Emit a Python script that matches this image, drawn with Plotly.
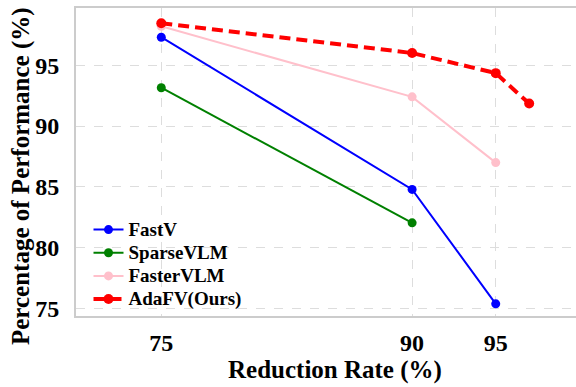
import plotly.graph_objects as go

# Data
x_fastv = [75, 90, 95]
y_fastv = [97.3, 84.8, 75.4]
x_sparse = [75, 90]
y_sparse = [93.15, 82.05]
x_faster = [75, 90, 95]
y_faster = [98.2, 92.4, 87.0]
x_adafv = [75, 90, 95, 97]
y_adafv = [98.45, 96.0, 94.35, 91.85]

x_ticks = [75, 90, 95]
y_ticks = [75, 80, 85, 90, 95]

FONT = "Liberation Serif, Times New Roman, serif"


def lbl(s):
    return f'<span style="font-size:19px"><b>{s}</b></span>'


fig = go.Figure()
fig.add_trace(go.Scatter(x=x_fastv, y=y_fastv, name=lbl("FastV"), mode="lines+markers",
                         line=dict(color="#0000ff", width=2), marker=dict(size=9, color="#0000ff")))
fig.add_trace(go.Scatter(x=x_sparse, y=y_sparse, name=lbl("SparseVLM"), mode="lines+markers",
                         line=dict(color="#008000", width=2), marker=dict(size=9, color="#008000")))
fig.add_trace(go.Scatter(x=x_faster, y=y_faster, name=lbl("FasterVLM"), mode="lines+markers",
                         line=dict(color="#ffc0cb", width=2), marker=dict(size=9, color="#ffc0cb")))
fig.add_trace(go.Scatter(x=x_adafv, y=y_adafv, name=lbl("AdaFV(Ours)"), mode="lines+markers",
                         line=dict(color="#ff0000", width=4, dash="11px,6px"), marker=dict(size=10, color="#ff0000")))

fig.update_layout(
    width=576, height=387,
    margin=dict(l=76, r=0, t=8, b=71),
    plot_bgcolor="white", paper_bgcolor="white",
    font=dict(family=FONT, color="black"),
    showlegend=True,
    legend=dict(x=0.025, y=0.0, xanchor="left", yanchor="bottom",
                font=dict(family=FONT, size=15.5, color="black"),
                bgcolor="rgba(255,255,255,0)", borderwidth=0,
                tracegroupgap=0, itemwidth=30),
    xaxis=dict(range=[69.9, 99.8], tickvals=x_ticks, ticktext=[f"<b>{v}</b>" for v in x_ticks],
               tickfont=dict(family=FONT, size=24, color="black"),
               showgrid=True, gridcolor="#dddddd", griddash="dash", gridwidth=1,
               showline=True, linecolor="#cccccc", linewidth=2, mirror=True,
               zeroline=False, ticks="", ticklabelstandoff=4),
    yaxis=dict(range=[74.4, 99.7], tickvals=y_ticks, ticktext=[f"<b>{v}</b>" for v in y_ticks],
               tickfont=dict(family=FONT, size=24, color="black"),
               showgrid=True, gridcolor="#dddddd", griddash="dash", gridwidth=1,
               showline=True, linecolor="#cccccc", linewidth=2, mirror=False,
               zeroline=False, ticks="", ticklabelstandoff=10),
    annotations=[
        dict(text="<b>Reduction Rate (%)</b>", xref="paper", yref="paper",
             x=(334.7 - 76) / 500, y=-(370 - 316) / 308, xanchor="center", yanchor="middle",
             showarrow=False, font=dict(family=FONT, size=25, color="black")),
        dict(text="<b>Percentage of Performance (%)</b>", xref="paper", yref="paper",
             x=-(76 - 21) / 500, y=(316 - 176) / 308, xanchor="center", yanchor="middle",
             textangle=-90, showarrow=False, font=dict(family=FONT, size=25, color="black")),
    ],
)

fig.write_html("out.html")
